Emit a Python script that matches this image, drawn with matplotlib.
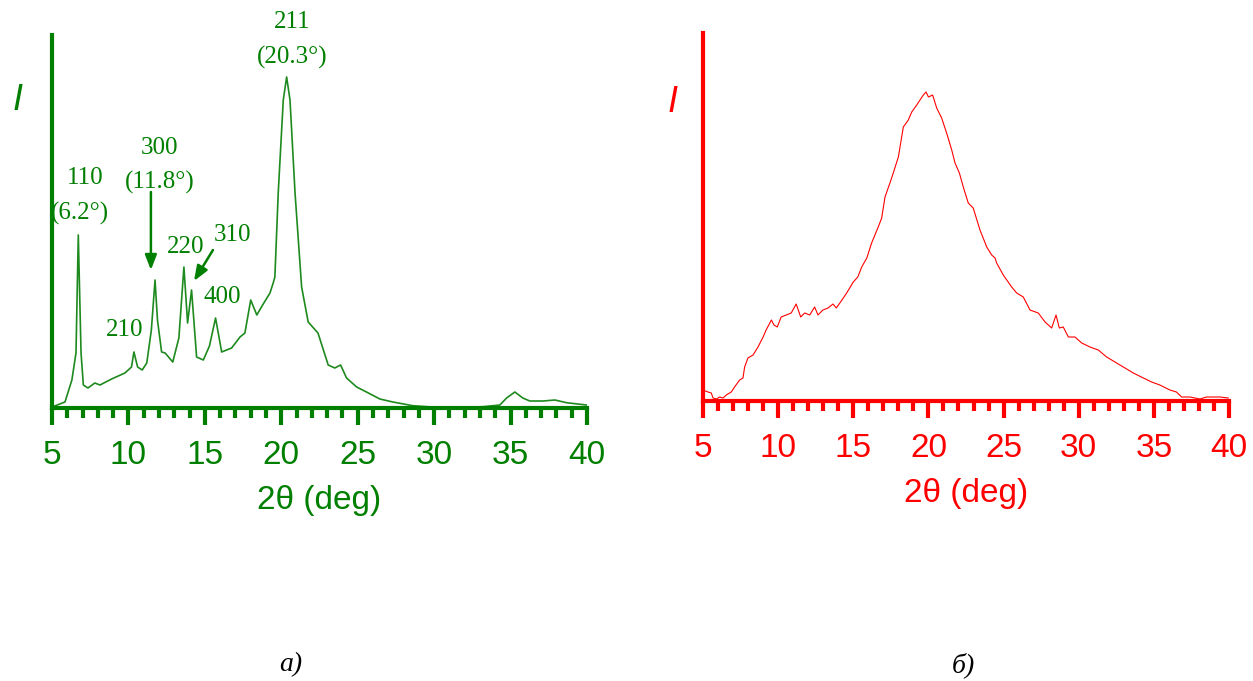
import numpy as np
import matplotlib.pyplot as plt
from matplotlib.ticker import MultipleLocator

# a) crystalline sample, 2theta (deg) vs intensity (arb. units)
tt_a = [5.0, 5.85, 6.3, 6.57, 6.72, 6.9, 7.05, 7.35, 7.8, 8.14, 8.9, 9.77, 10.2, 10.36,
        10.6, 10.9, 11.2, 11.5, 11.74, 11.9, 12.17, 12.4, 12.9, 13.3, 13.63, 13.87, 14.13,
        14.46, 14.9, 15.3, 15.7, 16.1, 16.75, 17.3, 17.62, 18.0, 18.4, 18.7, 19.26, 19.47,
        19.58, 19.8, 20.13, 20.35, 20.57, 20.9, 21.33, 21.76, 22.4, 23.07, 23.5, 23.88,
        24.27, 24.93, 25.7, 26.45, 27.3, 28.6, 30.16, 31.9, 33.2, 34.3, 34.74, 35.28,
        35.8, 36.26, 37.13, 37.9, 38.66, 39.97]
int_a = [1, 6, 28, 55, 173, 55, 23, 20, 25, 23, 29, 35, 41, 56,
         41, 38, 45, 78, 128, 88, 56, 55, 46, 70, 141, 85, 118,
         51, 48, 62, 90, 56, 60, 71, 75, 108, 93, 101, 115, 125,
         131, 215, 308, 331, 308, 215, 121, 86, 75, 43, 40, 43,
         30, 21, 15, 9, 6, 2.3, 0.7, 0.7, 1.3, 3, 10, 16,
         10, 7, 7, 8, 5.3, 3]

# b) amorphous sample
tt_b = [5.0, 5.33, 5.55, 5.67, 5.9, 6.1, 6.33, 6.55, 6.88, 7.1, 7.44, 7.66, 7.77, 7.99,
        8.33, 8.66, 9.0, 9.2, 9.55, 9.72, 9.94, 10.2, 10.54, 10.87, 11.2, 11.5, 11.77,
        12.1, 12.43, 12.65, 12.98, 13.32, 13.65, 13.87, 14.2, 14.56, 15.0, 15.3, 15.56,
        15.9, 16.22, 16.66, 16.89, 17.11, 17.44, 17.66, 18.0, 18.33, 18.66, 18.89, 19.22,
        19.44, 19.66, 19.84, 20.0, 20.28, 20.55, 20.88, 21.21, 21.55, 21.77, 22.06, 22.32,
        22.65, 22.98, 23.43, 23.88, 24.21, 24.43, 24.54, 24.98, 25.54, 25.87, 26.31, 26.76,
        27.31, 27.76, 28.2, 28.49, 28.71, 28.97, 29.31, 29.75, 30.2, 30.75, 31.3, 31.86,
        32.41, 32.97, 33.63, 34.3, 34.85, 35.4, 36.07, 36.5, 36.85, 37.4, 38.07, 38.5,
        38.95, 39.4, 39.95]
int_b = [11, 9, 8, 3, 2, 4, 3, 6, 9, 14, 21, 23, 34, 43,
         46, 54, 64, 71, 81, 76, 74, 84, 86, 88, 97, 84, 88,
         86, 94, 86, 91, 93, 97, 93, 100, 108, 119, 124, 134,
         143, 158, 174, 183, 204, 218, 228, 244, 274, 281, 289, 296,
         301, 306, 309, 304, 306, 293, 283, 268, 251, 238, 228, 214,
         198, 193, 171, 154, 146, 143, 138, 126, 114, 108, 104, 91,
         88, 79, 73, 86, 73, 74, 64, 64, 58, 54, 51, 44,
         39, 34, 28, 23, 19, 16, 11, 9, 4, 4, 2, 4,
         4, 4, 3]

GREEN = '#007f00'
RED = '#ff0000'

fig = plt.figure(figsize=(12.53, 6.81), dpi=100)
ax1 = fig.add_axes([52/1253, 1-408/681, 535/1253, 373/681])
ax2 = fig.add_axes([703/1253, 1-401/681, 526/1253, 368/681])


def style(ax, col, top):
    ax.set_xlim(5, 40)
    ax.set_ylim(0, top)
    for s in ['top', 'right']:
        ax.spines[s].set_visible(False)
    for s in ['left', 'bottom']:
        ax.spines[s].set_color(col)
        ax.spines[s].set_linewidth(3)
    ax.set_yticks([])
    ax.xaxis.set_major_locator(MultipleLocator(5))
    ax.xaxis.set_minor_locator(MultipleLocator(1))
    ax.tick_params(axis='x', which='major', length=12, width=3, color=col,
                   labelcolor=col, labelsize=24, pad=11)
    ax.tick_params(axis='x', which='minor', length=7, width=3, color=col)
    for t in ax.get_xticklabels():
        t.set_fontfamily('Liberation Sans')
    ax.set_xlabel('2θ (deg)', color=col, fontsize=24, family='Liberation Sans',
                  labelpad=10)
    ax.patch.set_visible(False)


ax1.plot(tt_a, int_a, color='#1e8a1e', lw=1.2)
style(ax1, GREEN, 373)
ax2.plot(tt_b, int_b, color=RED, lw=0.8)
style(ax2, RED, 368)

ser = dict(color=GREEN, fontsize=18, family='Liberation Serif', ha='center',
           va='center')
ax1.text(7.16, 230, '110', **ser)
ax1.text(6.83, 195, '(6.2°)', **ser)
ax1.text(12.06, 260, '300', **ser)
ax1.text(12.06, 226, '(11.8°)', **ser)
ax1.text(9.77, 78, '210', **ser)
ax1.text(13.76, 161, '220', **ser)
ax1.text(16.84, 173, '310', **ser)
ax1.text(16.12, 111, '400', **ser)
ax1.text(20.7, 386, '211', clip_on=False, **ser)
ax1.text(20.7, 351, '(20.3°)', **ser)

arr = dict(arrowstyle='-|>,head_length=0.9,head_width=0.35', color=GREEN, lw=1.8,
           shrinkA=0, shrinkB=0)
ax1.annotate('', xy=(11.47, 138), xytext=(11.47, 216), arrowprops=arr)
ax1.annotate('', xy=(14.29, 127), xytext=(15.53, 158), arrowprops=arr)

fig.text(18/1253, 1-100/681, 'I', color=GREEN, fontsize=26, style='italic',
         family='Liberation Sans', ha='center', va='center')
fig.text(673/1253, 1-103/681, 'I', color=RED, fontsize=26, style='italic',
         family='Liberation Sans', ha='center', va='center')

fig.text(291/1253, 1-665/681, 'а)', fontsize=20, style='italic',
         family='Liberation Serif', ha='center', va='center')
fig.text(963/1253, 1-665/681, 'б)', fontsize=20, style='italic',
         family='Liberation Serif', ha='center', va='center')

fig.savefig('out.png', dpi=100)
